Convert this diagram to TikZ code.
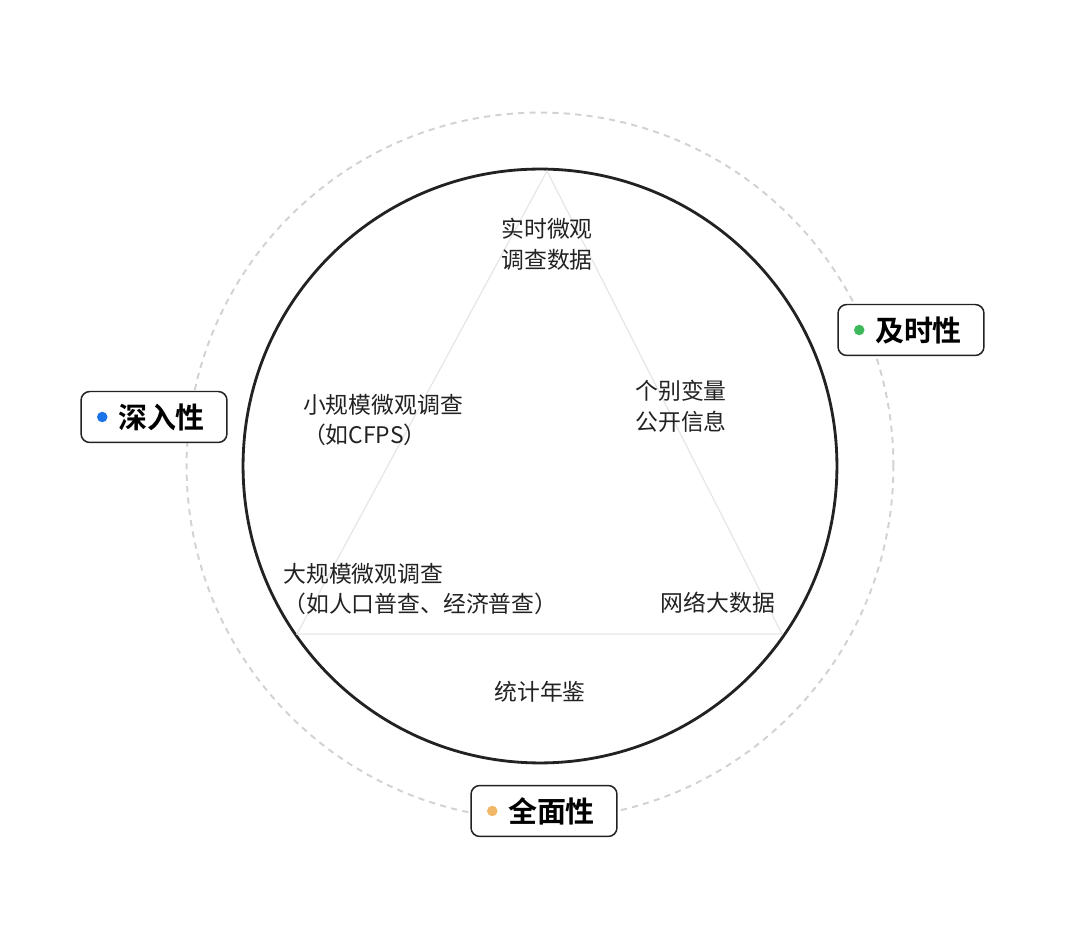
\documentclass[tikz,border=0pt]{standalone}
\usepackage{fontspec}
\setmainfont{Noto Sans CJK SC}[BoldFont={Noto Sans CJK SC Bold}]
\usepackage{tikz}
\usetikzlibrary{positioning}
\definecolor{InkGray}{HTML}{222222}
\definecolor{RingGray}{HTML}{D2D2D2}
\definecolor{EdgeGray}{HTML}{E6E6E6}
\definecolor{DotBlue}{HTML}{1A73E8}
\definecolor{DotGreen}{HTML}{3DB85A}
\definecolor{DotOrange}{HTML}{F2B766}

\begin{document}
\begin{tikzpicture}[
    x=0.02cm, y=-0.02cm,
    txt/.style={align=center, text=InkGray, font=\fontsize{13pt}{17.5pt}\selectfont, inner sep=0pt},
    tag/.style={draw=InkGray, fill=white, line width=0.85pt, rounded corners=5pt, minimum width=2.92cm, minimum height=1.02cm, inner sep=0pt, font=\fontsize{16.5pt}{18pt}\selectfont\bfseries, text=black},
    dot/.style={circle, inner sep=0pt, minimum size=0.21cm},
    edge/.style={draw=EdgeGray, line width=0.7pt}
  ]
    \useasboundingbox (0,0) rectangle (1080,932);
    \coordinate (mid) at (540,466);
    % outer ring and circle
    \draw[RingGray, line width=1.1pt, dash pattern=on 3.5pt off 3pt] (mid) circle[radius=7.07cm];
    \draw[InkGray, line width=1.6pt] (mid) circle[radius=5.94cm];
    % triangle
    \coordinate (apex) at (547,171);
    \coordinate (lowleft) at (297,634);
    \coordinate (lowright) at (782,634);
    \draw[edge] (apex) -- (lowleft) -- (lowright) -- cycle;
    % texts
    \node[txt] (realtime) at (547,244) {实时微观\\调查数据};
    \node[txt, align=left] (small) at (383,420) {小规模微观调查\\（如CFPS）};
    \node[txt] (public) at (681,406) {个别变量\\公开信息};
    \node[txt, align=left, anchor=west] (large) at (283,589) {大规模微观调查\\（如人口普查、经济普查）};
    \node[txt] (web) at (718,603) {网络大数据};
    \node[txt] (yearbook) at (540,692) {统计年鉴};
    % tags
    \node[tag] (deep) at (154,417) {\hspace*{0.3cm}深入性};
    \node[dot, fill=DotBlue] (deepdot) at ([xshift=0.44cm]deep.west) {};
    \node[tag] (timely) at (911,330) {\hspace*{0.3cm}及时性};
    \node[dot, fill=DotGreen] (timelydot) at ([xshift=0.44cm]timely.west) {};
    \node[tag] (whole) at (544,811) {\hspace*{0.3cm}全面性};
    \node[dot, fill=DotOrange] (wholedot) at ([xshift=0.44cm]whole.west) {};
  \end{tikzpicture}
\end{document}
